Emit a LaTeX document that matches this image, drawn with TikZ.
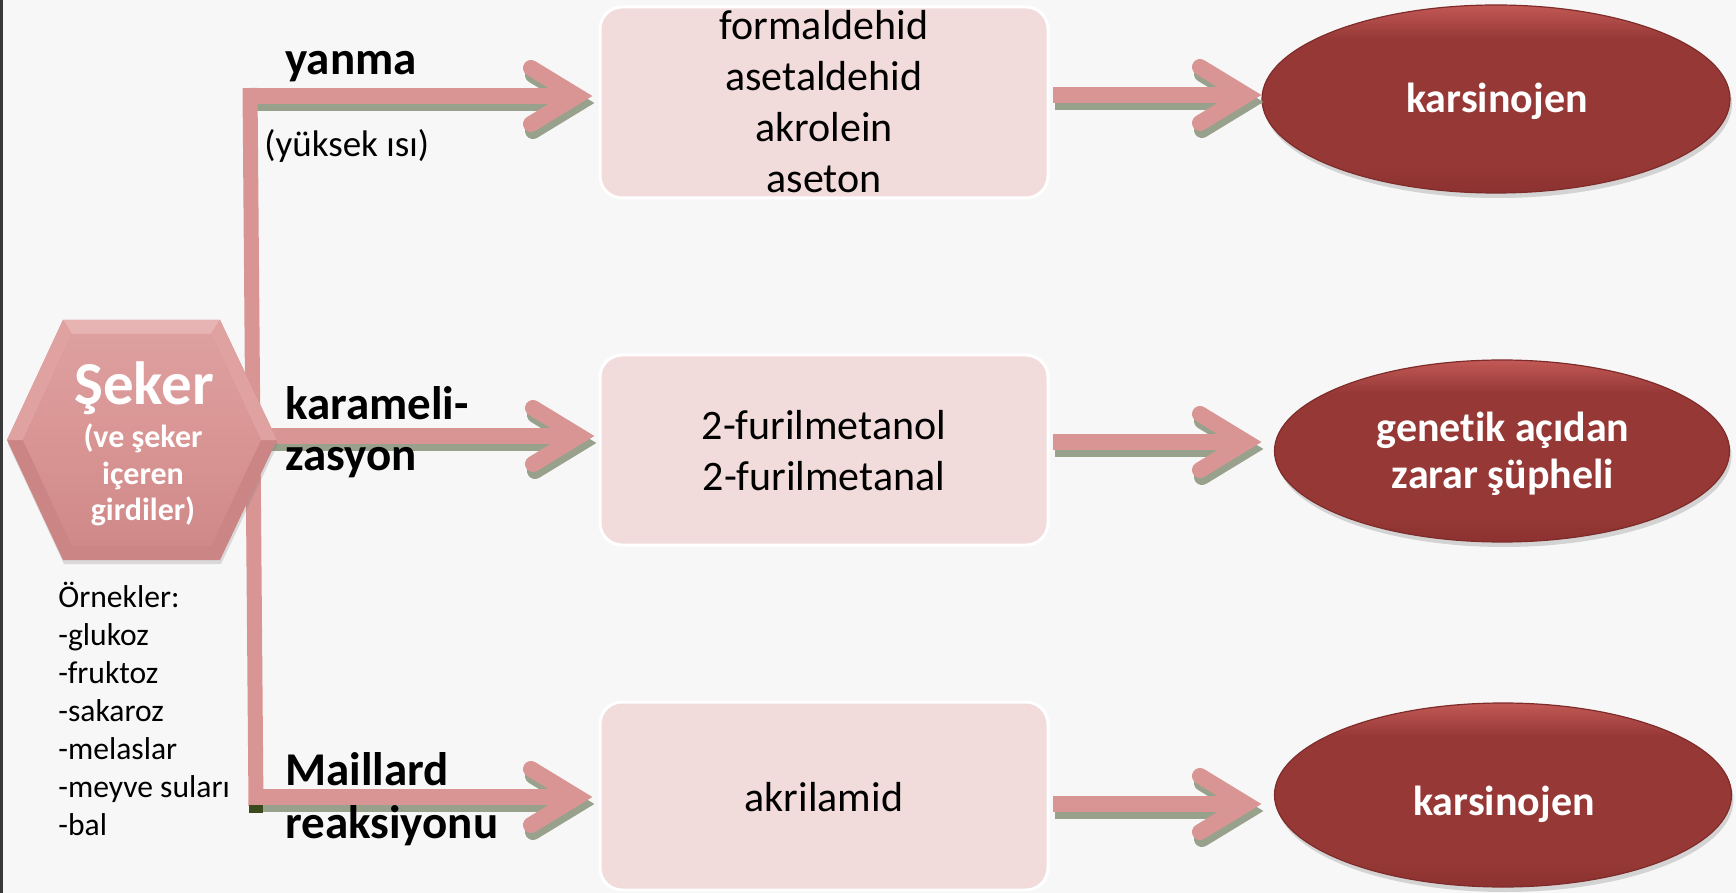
\documentclass[tikz,border=0pt]{standalone}
\usepackage{fontspec}
\setmainfont{Carlito}[Ligatures={NoCommon}]
\usetikzlibrary{calc,shapes.geometric,shadows}
\definecolor{bg}{HTML}{F7F7F7}
\definecolor{edgegray}{HTML}{3A3A3A}
\definecolor{arrpink}{HTML}{D99594}
\definecolor{arrshadow}{HTML}{98A18C}
\definecolor{darkcorner}{HTML}{3A4A1C}
\definecolor{boxfill}{HTML}{F2DCDB}
\definecolor{ellmain}{HTML}{963836}
\definecolor{ellbot}{HTML}{8C3230}
\definecolor{elltop}{HTML}{C25956}
\definecolor{ellline}{HTML}{7E2C2A}
\definecolor{hexface}{HTML}{D99594}
\definecolor{hexfacetop}{HTML}{DDA09F}
\definecolor{hexdark}{HTML}{CE8988}
\definecolor{hexedge}{HTML}{CB8584}
\definecolor{hexlight}{HTML}{E7B4B3}
\definecolor{hexmid}{HTML}{DFA2A1}
\pgfdeclareverticalshading{ellshade}{100bp}{color(0bp)=(ellbot); color(25bp)=(ellbot); color(32bp)=(ellmain); color(66bp)=(ellmain); color(75bp)=(elltop); color(100bp)=(elltop)}
\pgfdeclareverticalshading{hexshade}{100bp}{color(0bp)=(hexdark); color(25bp)=(hexdark); color(50bp)=(hexface); color(75bp)=(hexfacetop); color(100bp)=(hexfacetop)}
\newcommand\fatarrow[3]{%
  \draw[#3] (#1) -- (#2);
  \draw[#3,line cap=round,line join=miter] ($(#2)+(-46,-28)$) -- (#2) -- ($(#2)+(-46,28)$);}
\begin{document}
\begin{tikzpicture}[x=0.5pt,y=-0.5pt,
  pinkline/.style={draw=arrpink,line width=8pt},
  shadowline/.style={draw=arrshadow,line width=8pt},
  prodbox/.style={fill=boxfill,draw=white,line width=1.5pt,rounded corners=11pt,inner sep=0pt,outer sep=0pt},
  riskell/.style={ellipse,shading=ellshade,draw=ellline,line width=0.6pt,inner sep=0pt,outer sep=0pt,
    drop shadow={shadow xshift=1pt,shadow yshift=-2.5pt,opacity=0.3}},
  prodtxt/.style={font=\fontsize{21}{25}\selectfont,anchor=base,inner sep=0pt},
  risktxt/.style={font=\bfseries\fontsize{21}{25}\selectfont,text=white,anchor=base,inner sep=0pt},
  lbl/.style={font=\bfseries\fontsize{23.5}{27}\selectfont,anchor=base west,inner sep=0pt},
  smalltxt/.style={font=\fontsize{18.5}{21}\selectfont,anchor=base west,inner sep=0pt},
  listtxt/.style={font=\fontsize{15.8}{19}\selectfont,anchor=base west,inner sep=0pt},
  hexbig/.style={font=\bfseries\fontsize{30.5}{34}\selectfont,text=white,anchor=base,inner sep=0pt},
  hexsmall/.style={font=\bfseries\fontsize{16}{19}\selectfont,text=white,anchor=base,inner sep=0pt}]
\useasboundingbox (0,0) rectangle (1736,893);
\fill[bg] (0,0) rectangle (1736,893);
\fill[edgegray] (0,0) rectangle (2.5,893);

% boxes
\node[prodbox,minimum width=224pt,minimum height=95.5pt] (b1) at (824,102.5) {};
\node[prodbox,minimum width=224pt,minimum height=95pt] (b2) at (824,450) {};
\node[prodbox,minimum width=224pt,minimum height=94pt] (b3) at (824,796) {};

% ellipses
\node[riskell,minimum width=234pt,minimum height=94pt] (e1) at (1496,99) {};
\node[riskell,minimum width=227.5pt,minimum height=91pt] (e2) at (1502,451) {};
\node[riskell,minimum width=228.5pt,minimum height=92pt] (e3) at (1503,795) {};

% connector coordinates
\coordinate (vtop) at (250,88);
\coordinate (vbot) at (256,806);
\coordinate (ys) at (243,96);  \coordinate (ye) at (577,96);
\coordinate (ks) at (256,436); \coordinate (ke) at (579,436);
\coordinate (ms) at (250,797); \coordinate (me) at (577,797);
\coordinate (r1s) at (1053,95);  \coordinate (r1e) at (1246,95);
\coordinate (r2s) at (1053,442); \coordinate (r2e) at (1246,442);
\coordinate (r3s) at (1053,804); \coordinate (r3e) at (1246,804);

% arrow shadows
\begin{scope}[transform canvas={shift={(1pt,-3.5pt)}}]
  \fatarrow{ys}{ye}{shadowline}
  \fatarrow{ks}{ke}{shadowline}
  \fatarrow{ms}{me}{shadowline}
  \fatarrow{r1s}{r1e}{shadowline}
  \fatarrow{r2s}{r2e}{shadowline}
  \fatarrow{r3s}{r3e}{shadowline}
\end{scope}
% vertical bar
\draw[draw=arrpink,line width=7.5pt] (vtop) -- (vbot);
\fill[darkcorner] (249,805) rectangle (263,813);
% arrows
\fatarrow{ys}{ye}{pinkline}
\fatarrow{ks}{ke}{pinkline}
\fatarrow{ms}{me}{pinkline}
\fatarrow{r1s}{r1e}{pinkline}
\fatarrow{r2s}{r2e}{pinkline}
\fatarrow{r3s}{r3e}{pinkline}

% hexagon
\path[fill=hexedge,drop shadow={shadow xshift=0.5pt,shadow yshift=-2pt,opacity=0.25}]
  (7,440) -- (63,320) -- (220,320) -- (277,440) -- (220,560) -- (63,560) -- cycle;
\fill[hexlight] (63,320) -- (220,320) -- (211,334) -- (72,334) -- cycle;
\fill[hexmid] (7,440) -- (63,320) -- (72,334) -- (23,440) -- cycle;
\fill[hexmid] (277,440) -- (220,320) -- (211,334) -- (261,440) -- cycle;
\shade[shading=hexshade] (23,440) -- (72,334) -- (211,334) -- (261,440) -- (211,546) -- (72,546) -- cycle;
\node[hexbig] (seker) at (144,404) {Şeker};
\node[hexsmall] (seker1) at (143,447) {(ve şeker};
\node[hexsmall] (seker2) at (143,484) {içeren};
\node[hexsmall] (seker3) at (143,520) {girdiler)};

% labels
\node[lbl] (lyanma) at (285,75) {yanma};
\node[smalltxt] (lisi) at (264,157) {(yüksek ısı)};
\node[lbl] (lkar1) at (285,420) {karameli-};
\node[lbl] (lkar2) at (285,470) {zasyon};
\node[lbl] (lmai1) at (285,785) {Maillard};
\node[lbl] (lmai2) at (285,838) {reaksiyonu};

% examples
\foreach \t [count=\i from 0] in {Örnekler:,-glukoz,-fruktoz,-sakaroz,-melaslar,-meyve suları,-bal}
  \node[listtxt] (ex\i) at (58,607+38*\i) {\t};

% box texts
\foreach \t [count=\i from 0] in {formaldehid,asetaldehid,akrolein,aseton}
  \node[prodtxt] (b1t\i) at (824,40+51*\i) {\t};
\node[prodtxt] (b2t0) at (824,439) {2-furilmetanol};
\node[prodtxt] (b2t1) at (824,490) {2-furilmetanal};
\node[prodtxt] (b3t0) at (824,811) {akrilamid};

% risk texts
\node[risktxt] (e1t) at (1497,113) {karsinojen};
\node[risktxt] (e2t0) at (1503,442) {genetik açıdan};
\node[risktxt] (e2t1) at (1503,488) {zarar şüpheli};
\node[risktxt] (e3t) at (1504,815) {karsinojen};
\end{tikzpicture}
\end{document}
